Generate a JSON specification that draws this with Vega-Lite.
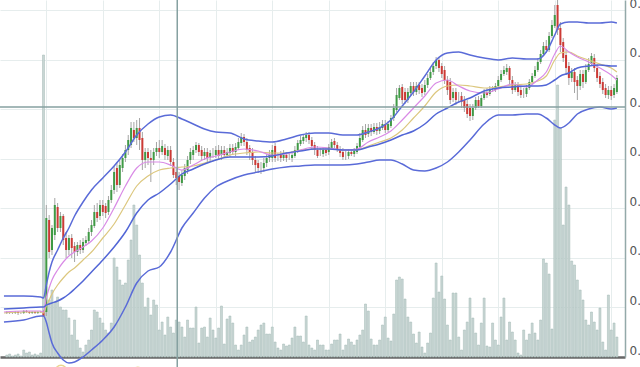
{
"$schema":"https://vega.github.io/schema/vega-lite/v6.json",
"width":625,"height":357,"autosize":{"type":"none"},
"padding":{"left":0,"top":0,"right":15,"bottom":10},
"background":"white",
"config":{"view":{"stroke":null}},
"datasets":{
"candles":[
{"i":6,"o":44,"h":46,"l":43,"c":45,"v":2},{"i":7,"o":45,"h":46,"l":43,"c":44,"v":3},{"i":8,"o":44,"h":45,"l":43,"c":44,"v":1},{"i":9,"o":44,"h":46,"l":43,"c":45,"v":2},{"i":10,"o":45,"h":46,"l":42,"c":44,"v":3},{"i":11,"o":44,"h":45,"l":43,"c":44,"v":1},{"i":12,"o":44,"h":47,"l":43,"c":46,"v":7},{"i":13,"o":46,"h":47,"l":44,"c":45,"v":4},{"i":14,"o":45,"h":46,"l":43,"c":44,"v":5},{"i":15,"o":44,"h":46,"l":43,"c":45,"v":2},{"i":16,"o":45,"h":46,"l":43,"c":44,"v":3},{"i":17,"o":44,"h":46,"l":43,"c":45,"v":2},{"i":18,"o":45,"h":46,"l":44,"c":45,"v":4},
{"i":19,"o":46,"h":47,"l":40,"c":41,"v":302},{"i":20,"o":45,"h":152,"l":41,"c":139,"v":52},{"i":21,"o":137,"h":142,"l":99,"c":105,"v":57},{"i":22,"o":107,"h":132,"l":102,"c":129,"v":67},{"i":23,"o":122,"h":159,"l":117,"c":152,"v":55},{"i":24,"o":150,"h":154,"l":125,"c":129,"v":60},{"i":25,"o":129,"h":145,"l":125,"c":141,"v":50},{"i":26,"o":141,"h":143,"l":112,"c":117,"v":47},{"i":27,"o":119,"h":125,"l":99,"c":107,"v":47},{"i":28,"o":107,"h":122,"l":102,"c":119,"v":39},{"i":29,"o":119,"h":123,"l":99,"c":109,"v":22},{"i":30,"o":111,"h":115,"l":95,"c":105,"v":37},
{"i":31,"o":105,"h":115,"l":101,"c":112,"v":17},{"i":32,"o":112,"h":117,"l":103,"c":107,"v":9},{"i":33,"o":107,"h":119,"l":104,"c":115,"v":5},{"i":34,"o":114,"h":121,"l":111,"c":117,"v":12},{"i":35,"o":116,"h":129,"l":113,"c":125,"v":17},{"i":36,"o":125,"h":137,"l":121,"c":132,"v":27},{"i":37,"o":131,"h":152,"l":129,"c":145,"v":47},{"i":38,"o":145,"h":154,"l":135,"c":139,"v":45},{"i":39,"o":141,"h":157,"l":137,"c":152,"v":39},{"i":40,"o":152,"h":157,"l":141,"c":145,"v":34},
{"i":41,"o":151,"h":154,"l":139,"c":144,"v":27},{"i":42,"o":145,"h":161,"l":142,"c":157,"v":24},{"i":43,"o":157,"h":172,"l":154,"c":167,"v":34},{"i":44,"o":167,"h":191,"l":163,"c":185,"v":99},{"i":45,"o":189,"h":195,"l":165,"c":172,"v":90},{"i":46,"o":172,"h":197,"l":169,"c":192,"v":77},{"i":47,"o":189,"h":203,"l":185,"c":199,"v":72},{"i":48,"o":199,"h":212,"l":195,"c":207,"v":74},{"i":49,"o":207,"h":222,"l":202,"c":217,"v":97},{"i":50,"o":212,"h":235,"l":209,"c":229,"v":117},
{"i":51,"o":227,"h":235,"l":215,"c":219,"v":152},{"i":52,"o":219,"h":237,"l":212,"c":229,"v":132},{"i":53,"o":229,"h":239,"l":207,"c":217,"v":102},{"i":54,"o":219,"h":225,"l":187,"c":197,"v":74},{"i":55,"o":197,"h":209,"l":189,"c":205,"v":50},{"i":56,"o":205,"h":209,"l":192,"c":199,"v":59},{"i":57,"o":199,"h":207,"l":175,"c":197,"v":42},{"i":58,"o":197,"h":209,"l":192,"c":205,"v":57},{"i":59,"o":205,"h":215,"l":201,"c":209,"v":52},{"i":60,"o":209,"h":217,"l":199,"c":205,"v":27},
{"i":61,"o":205,"h":217,"l":202,"c":211,"v":35},{"i":62,"o":209,"h":213,"l":197,"c":202,"v":22},{"i":63,"o":201,"h":211,"l":197,"c":207,"v":40},{"i":64,"o":207,"h":211,"l":191,"c":195,"v":30},{"i":65,"o":195,"h":199,"l":179,"c":182,"v":24},{"i":66,"o":185,"h":189,"l":172,"c":179,"v":37},{"i":67,"o":181,"h":185,"l":167,"c":175,"v":35},{"i":68,"o":174,"h":187,"l":171,"c":182,"v":30},{"i":69,"o":181,"h":193,"l":177,"c":189,"v":20},{"i":70,"o":187,"h":201,"l":183,"c":197,"v":37},
{"i":71,"o":197,"h":209,"l":193,"c":205,"v":29},{"i":72,"o":202,"h":211,"l":197,"c":207,"v":29},{"i":73,"o":207,"h":215,"l":204,"c":212,"v":50},{"i":74,"o":212,"h":214,"l":201,"c":205,"v":14},{"i":75,"o":207,"h":211,"l":197,"c":201,"v":29},{"i":76,"o":201,"h":209,"l":197,"c":205,"v":30},{"i":77,"o":205,"h":209,"l":195,"c":199,"v":20},{"i":78,"o":199,"h":207,"l":195,"c":204,"v":39},{"i":79,"o":204,"h":209,"l":199,"c":204,"v":27},{"i":80,"o":202,"h":211,"l":199,"c":207,"v":19},
{"i":81,"o":207,"h":212,"l":197,"c":201,"v":29},{"i":82,"o":202,"h":211,"l":197,"c":207,"v":51},{"i":83,"o":207,"h":211,"l":199,"c":202,"v":13},{"i":84,"o":202,"h":209,"l":199,"c":205,"v":38},{"i":85,"o":204,"h":213,"l":200,"c":209,"v":41},{"i":86,"o":209,"h":213,"l":202,"c":205,"v":34},{"i":87,"o":205,"h":214,"l":201,"c":210,"v":12},{"i":88,"o":209,"h":219,"l":207,"c":215,"v":7},{"i":89,"o":214,"h":224,"l":211,"c":220,"v":12},{"i":90,"o":220,"h":223,"l":211,"c":215,"v":22},
{"i":91,"o":215,"h":219,"l":202,"c":207,"v":30},{"i":92,"o":209,"h":212,"l":197,"c":205,"v":15},{"i":93,"o":205,"h":209,"l":192,"c":197,"v":17},{"i":94,"o":197,"h":201,"l":185,"c":192,"v":20},{"i":95,"o":194,"h":197,"l":184,"c":189,"v":27},{"i":96,"o":189,"h":195,"l":183,"c":189,"v":32},{"i":97,"o":189,"h":199,"l":185,"c":194,"v":34},{"i":98,"o":194,"h":203,"l":190,"c":199,"v":23},{"i":99,"o":199,"h":207,"l":195,"c":202,"v":23},{"i":100,"o":199,"h":212,"l":195,"c":207,"v":30},
{"i":101,"o":211,"h":214,"l":195,"c":199,"v":15},{"i":102,"o":200,"h":204,"l":196,"c":200,"v":9},{"i":103,"o":202,"h":206,"l":195,"c":199,"v":7},{"i":104,"o":199,"h":207,"l":196,"c":202,"v":13},{"i":105,"o":202,"h":205,"l":195,"c":199,"v":11},{"i":106,"o":200,"h":204,"l":197,"c":200,"v":12},{"i":107,"o":199,"h":206,"l":195,"c":202,"v":19},{"i":108,"o":201,"h":211,"l":199,"c":207,"v":30},{"i":109,"o":207,"h":217,"l":204,"c":214,"v":21},{"i":110,"o":213,"h":221,"l":211,"c":217,"v":21},
{"i":111,"o":216,"h":223,"l":213,"c":220,"v":15},{"i":112,"o":219,"h":225,"l":215,"c":222,"v":41},{"i":113,"o":222,"h":225,"l":213,"c":217,"v":12},{"i":114,"o":217,"h":220,"l":207,"c":211,"v":9},{"i":115,"o":212,"h":215,"l":202,"c":207,"v":7},{"i":116,"o":207,"h":211,"l":199,"c":201,"v":17},{"i":117,"o":205,"h":209,"l":201,"c":205,"v":12},{"i":118,"o":203,"h":210,"l":200,"c":207,"v":12},{"i":119,"o":207,"h":210,"l":201,"c":204,"v":7},{"i":120,"o":205,"h":213,"l":202,"c":210,"v":7},
{"i":121,"o":209,"h":218,"l":207,"c":215,"v":13},{"i":122,"o":216,"h":219,"l":209,"c":212,"v":17},{"i":123,"o":212,"h":215,"l":205,"c":207,"v":17},{"i":124,"o":208,"h":211,"l":200,"c":204,"v":23},{"i":125,"o":205,"h":209,"l":197,"c":200,"v":7},{"i":126,"o":202,"h":206,"l":197,"c":202,"v":12},{"i":127,"o":201,"h":208,"l":198,"c":205,"v":18},{"i":128,"o":205,"h":208,"l":201,"c":203,"v":15},{"i":129,"o":203,"h":209,"l":200,"c":206,"v":12},{"i":130,"o":205,"h":214,"l":203,"c":211,"v":17},
{"i":131,"o":210,"h":224,"l":208,"c":219,"v":22},{"i":132,"o":217,"h":231,"l":215,"c":227,"v":27},{"i":133,"o":227,"h":233,"l":219,"c":222,"v":53},{"i":134,"o":223,"h":233,"l":220,"c":229,"v":46},{"i":135,"o":229,"h":233,"l":221,"c":225,"v":18},{"i":136,"o":225,"h":234,"l":223,"c":230,"v":12},{"i":137,"o":230,"h":234,"l":222,"c":226,"v":12},{"i":138,"o":226,"h":235,"l":223,"c":230,"v":17},{"i":139,"o":229,"h":237,"l":227,"c":233,"v":32},{"i":140,"o":233,"h":237,"l":224,"c":227,"v":40},
{"i":141,"o":227,"h":236,"l":225,"c":233,"v":19},{"i":142,"o":231,"h":242,"l":229,"c":239,"v":16},{"i":143,"o":239,"h":253,"l":236,"c":249,"v":43},{"i":144,"o":247,"h":269,"l":245,"c":262,"v":77},{"i":145,"o":259,"h":272,"l":257,"c":269,"v":80},{"i":146,"o":270,"h":273,"l":253,"c":257,"v":78},{"i":147,"o":265,"h":269,"l":253,"c":257,"v":58},{"i":148,"o":257,"h":269,"l":254,"c":265,"v":40},{"i":149,"o":264,"h":275,"l":261,"c":271,"v":35},{"i":150,"o":271,"h":275,"l":261,"c":265,"v":23},
{"i":151,"o":265,"h":275,"l":262,"c":271,"v":14},{"i":152,"o":272,"h":275,"l":263,"c":267,"v":25},{"i":153,"o":269,"h":273,"l":260,"c":264,"v":10},{"i":154,"o":265,"h":277,"l":262,"c":272,"v":4},{"i":155,"o":272,"h":283,"l":269,"c":279,"v":14},{"i":156,"o":279,"h":289,"l":277,"c":285,"v":24},{"i":157,"o":285,"h":295,"l":282,"c":291,"v":59},{"i":158,"o":291,"h":300,"l":288,"c":297,"v":94},{"i":159,"o":297,"h":300,"l":285,"c":289,"v":65},{"i":160,"o":291,"h":294,"l":279,"c":283,"v":81},
{"i":161,"o":287,"h":291,"l":273,"c":277,"v":58},{"i":162,"o":277,"h":281,"l":262,"c":267,"v":32},{"i":163,"o":275,"h":279,"l":253,"c":257,"v":17},{"i":164,"o":259,"h":269,"l":255,"c":265,"v":64},{"i":165,"o":265,"h":269,"l":252,"c":257,"v":64},{"i":166,"o":260,"h":265,"l":255,"c":260,"v":20},{"i":167,"o":261,"h":265,"l":249,"c":255,"v":7},{"i":168,"o":257,"h":261,"l":245,"c":249,"v":27},{"i":169,"o":253,"h":257,"l":239,"c":243,"v":35},{"i":170,"o":249,"h":253,"l":236,"c":241,"v":59},
{"i":171,"o":241,"h":253,"l":237,"c":249,"v":39},{"i":172,"o":249,"h":260,"l":247,"c":257,"v":24},{"i":173,"o":257,"h":261,"l":249,"c":251,"v":12},{"i":174,"o":251,"h":262,"l":249,"c":259,"v":34},{"i":175,"o":259,"h":268,"l":257,"c":265,"v":59},{"i":176,"o":265,"h":269,"l":259,"c":262,"v":11},{"i":177,"o":263,"h":271,"l":261,"c":268,"v":10},{"i":178,"o":268,"h":271,"l":265,"c":268,"v":34},{"i":179,"o":267,"h":274,"l":265,"c":271,"v":17},{"i":180,"o":271,"h":281,"l":269,"c":277,"v":12},
{"i":181,"o":277,"h":287,"l":275,"c":283,"v":40},{"i":182,"o":283,"h":291,"l":281,"c":287,"v":59},{"i":183,"o":285,"h":293,"l":282,"c":289,"v":17},{"i":184,"o":289,"h":291,"l":273,"c":277,"v":35},{"i":185,"o":277,"h":281,"l":263,"c":267,"v":25},{"i":186,"o":267,"h":275,"l":265,"c":272,"v":17},{"i":187,"o":272,"h":275,"l":261,"c":265,"v":4},{"i":188,"o":267,"h":271,"l":259,"c":262,"v":2},{"i":189,"o":264,"h":269,"l":259,"c":264,"v":27},{"i":190,"o":263,"h":272,"l":260,"c":269,"v":17},
{"i":191,"o":269,"h":278,"l":267,"c":275,"v":23},{"i":192,"o":275,"h":284,"l":273,"c":281,"v":34},{"i":193,"o":281,"h":291,"l":279,"c":287,"v":24},{"i":194,"o":287,"h":299,"l":285,"c":295,"v":17},{"i":195,"o":295,"h":307,"l":293,"c":303,"v":37},{"i":196,"o":303,"h":315,"l":301,"c":311,"v":98},{"i":197,"o":311,"h":317,"l":304,"c":307,"v":94},{"i":198,"o":307,"h":325,"l":305,"c":321,"v":83},{"i":199,"o":321,"h":337,"l":319,"c":332,"v":28},{"i":200,"o":331,"h":352,"l":329,"c":342,"v":237},
{"i":201,"o":352,"h":357,"l":322,"c":327,"v":272},{"i":202,"o":329,"h":335,"l":305,"c":312,"v":229},{"i":203,"o":315,"h":319,"l":295,"c":299,"v":132},{"i":204,"o":302,"h":307,"l":282,"c":289,"v":170},{"i":205,"o":291,"h":295,"l":272,"c":279,"v":152},{"i":206,"o":279,"h":289,"l":275,"c":285,"v":96},{"i":207,"o":285,"h":289,"l":264,"c":275,"v":92},{"i":208,"o":277,"h":281,"l":257,"c":271,"v":77},{"i":209,"o":271,"h":287,"l":267,"c":283,"v":67},{"i":210,"o":283,"h":287,"l":269,"c":275,"v":57},
{"i":211,"o":275,"h":293,"l":273,"c":287,"v":37},{"i":212,"o":287,"h":299,"l":285,"c":293,"v":32},{"i":213,"o":293,"h":304,"l":291,"c":301,"v":45},{"i":214,"o":299,"h":303,"l":285,"c":289,"v":35},{"i":215,"o":289,"h":293,"l":275,"c":279,"v":27},{"i":216,"o":281,"h":285,"l":269,"c":273,"v":49},{"i":217,"o":275,"h":279,"l":263,"c":267,"v":15},{"i":218,"o":269,"h":273,"l":259,"c":262,"v":7},{"i":219,"o":262,"h":271,"l":258,"c":267,"v":62},{"i":220,"o":267,"h":271,"l":257,"c":261,"v":27},
{"i":221,"o":262,"h":273,"l":259,"c":269,"v":34},{"i":222,"o":265,"h":282,"l":263,"c":279,"v":20}
],
"lines":[
{"i":5,"up":61,"mid":48,"lo":35,"m1":45,"m2":44},
{"i":12,"up":61,"mid":49,"lo":37,"m1":46,"m2":45},
{"i":18,"up":60,"mid":50,"lo":41,"m1":46,"m2":45},
{"i":19,"up":59,"mid":50,"lo":41,"m1":45,"m2":44},
{"i":20,"up":72,"mid":52,"lo":35,"m1":59,"m2":51},
{"i":21,"up":85,"mid":53,"lo":24,"m1":69,"m2":57},
{"i":22,"up":95,"mid":54,"lo":14,"m1":77,"m2":63},
{"i":24,"up":107,"mid":56,"lo":4,"m1":87,"m2":72},
{"i":26,"up":119,"mid":59,"lo":-3,"m1":95,"m2":79},
{"i":28,"up":129,"mid":63,"lo":-6,"m1":101,"m2":85},
{"i":30,"up":141,"mid":68,"lo":-5,"m1":105,"m2":89},
{"i":33,"up":155,"mid":76,"lo":0,"m1":110,"m2":97},
{"i":36,"up":167,"mid":85,"lo":7,"m1":116,"m2":105},
{"i":40,"up":179,"mid":97,"lo":17,"m1":129,"m2":119},
{"i":44,"up":191,"mid":110,"lo":30,"m1":149,"m2":133},
{"i":48,"up":205,"mid":125,"lo":50,"m1":171,"m2":152},
{"i":52,"up":222,"mid":144,"lo":74,"m1":189,"m2":171},
{"i":56,"up":233,"mid":157,"lo":86,"m1":195,"m2":181},
{"i":60,"up":240,"mid":164,"lo":90,"m1":195,"m2":187},
{"i":64,"up":242,"mid":173,"lo":105,"m1":192,"m2":189},
{"i":68,"up":238,"mid":183,"lo":129,"m1":187,"m2":190},
{"i":72,"up":233,"mid":188,"lo":144,"m1":192,"m2":191},
{"i":76,"up":228,"mid":193,"lo":159,"m1":198,"m2":194},
{"i":80,"up":225,"mid":197,"lo":170,"m1":201,"m2":197},
{"i":85,"up":224,"mid":200,"lo":177,"m1":205,"m2":202},
{"i":90,"up":218,"mid":200,"lo":182,"m1":208,"m2":204},
{"i":95,"up":216,"mid":200,"lo":185,"m1":206,"m2":205},
{"i":100,"up":215,"mid":201,"lo":188,"m1":202,"m2":204},
{"i":105,"up":218,"mid":204,"lo":190,"m1":203,"m2":204},
{"i":110,"up":222,"mid":206,"lo":191,"m1":207,"m2":207},
{"i":115,"up":224,"mid":208,"lo":192,"m1":210,"m2":208},
{"i":120,"up":224,"mid":208,"lo":192,"m1":209,"m2":208},
{"i":125,"up":222,"mid":207,"lo":192,"m1":207,"m2":207},
{"i":130,"up":222,"mid":207,"lo":193,"m1":208,"m2":207},
{"i":134,"up":225,"mid":210,"lo":195,"m1":215,"m2":211},
{"i":138,"up":229,"mid":213,"lo":197,"m1":220,"m2":215},
{"i":142,"up":237,"mid":217,"lo":197,"m1":226,"m2":219},
{"i":146,"up":251,"mid":222,"lo":193,"m1":237,"m2":227},
{"i":150,"up":265,"mid":226,"lo":187,"m1":249,"m2":239},
{"i":154,"up":281,"mid":233,"lo":186,"m1":261,"m2":251},
{"i":158,"up":297,"mid":243,"lo":189,"m1":274,"m2":265},
{"i":162,"up":304,"mid":249,"lo":195,"m1":277,"m2":271},
{"i":166,"up":305,"mid":255,"lo":205,"m1":271,"m2":272},
{"i":170,"up":302,"mid":259,"lo":217,"m1":266,"m2":271},
{"i":175,"up":299,"mid":266,"lo":233,"m1":264,"m2":269},
{"i":180,"up":297,"mid":269,"lo":242,"m1":268,"m2":270},
{"i":185,"up":299,"mid":270,"lo":242,"m1":273,"m2":272},
{"i":190,"up":298,"mid":271,"lo":243,"m1":270,"m2":273},
{"i":194,"up":298,"mid":271,"lo":243,"m1":277,"m2":276},
{"i":197,"up":305,"mid":272,"lo":239,"m1":285,"m2":281},
{"i":200,"up":322,"mid":277,"lo":232,"m1":303,"m2":297},
{"i":202,"up":333,"mid":281,"lo":229,"m1":311,"m2":304},
{"i":205,"up":335,"mid":284,"lo":234,"m1":305,"m2":305},
{"i":208,"up":335,"mid":289,"lo":243,"m1":300,"m2":301},
{"i":212,"up":334,"mid":291,"lo":248,"m1":295,"m2":297},
{"i":216,"up":334,"mid":292,"lo":250,"m1":289,"m2":293},
{"i":220,"up":335,"mid":291,"lo":248,"m1":282,"m2":289},
{"i":222,"up":334,"mid":291,"lo":249,"m1":277,"m2":285}
],
"cross":[{"i":66.35,"p":250,"p1":-12,"p2":357}],
"marks":[{"i":25.2,"p":-14},{"i":52.4,"p":-16}]
},
"resolve":{"scale":{"y":"independent"}},
"layer":[
{"data":{"name":"candles"},
 "mark":{"type":"bar","width":2,"fill":"#c8d6d4","stroke":"#a3b8b5","strokeWidth":0.5},
 "encoding":{
  "x":{"field":"i","type":"quantitative","title":null,"scale":{"domain":[5.37,223.1],"nice":false,"zero":false},
       "axis":{"values":[20,40,60,80,100,120,140,160,180,200,220],"grid":true,"gridColor":"#e6eded","gridWidth":1,"labels":false,"ticks":false,"title":null,"domainColor":"#666666","domainWidth":2.5}},
  "y":{"field":"v","type":"quantitative","scale":{"domain":[0,357],"nice":false},"axis":null}
 }},
{"layer":[
 {"data":{"name":"candles"},
  "mark":{"type":"rule","color":"#a5a5a5","strokeWidth":1},
  "encoding":{
   "x":{"field":"i","type":"quantitative","title":null,"scale":{"domain":[5.37,223.1],"nice":false,"zero":false}},
   "y":{"field":"l","type":"quantitative","title":null,"scale":{"domain":[0,357],"nice":false,"zero":false},
        "axis":{"orient":"right","values":[0,49.57,99.14,148.71,198.29,247.86,297.43,347],"grid":true,"gridColor":"#e6eded","ticks":false,"title":null,
                "domainColor":"#93a9a9","domainWidth":1.5,"labelExpr":"format(datum.value/100000,'.5f')","labelFontSize":12,"labelColor":"#555555","labelFont":"DejaVu Sans","labelPadding":4,"labelBaseline":"alphabetic","labelOffset":-3}},
   "y2":{"field":"h"}
  }},
 {"data":{"name":"candles"},
  "mark":{"type":"bar","width":2},
  "encoding":{
   "x":{"field":"i","type":"quantitative","title":null,"scale":{"domain":[5.37,223.1],"nice":false,"zero":false}},
   "y":{"field":"o","type":"quantitative","title":null,"scale":{"domain":[0,357],"nice":false,"zero":false}},
   "y2":{"field":"c"},
   "color":{"condition":[{"test":"datum.c > datum.o","value":"#3f9a45"},{"test":"datum.c < datum.o","value":"#cc3a35"}],"value":"#a5a5a5"}
  }},
 {"data":{"name":"lines"},
  "mark":{"type":"line","color":"#5a6bd8","strokeWidth":1.5,"interpolate":"monotone"},
  "encoding":{
   "x":{"field":"i","type":"quantitative","title":null,"scale":{"domain":[5.37,223.1],"nice":false,"zero":false}},
   "y":{"field":"up","type":"quantitative","title":null,"scale":{"domain":[0,357],"nice":false,"zero":false}}}},
 {"data":{"name":"lines"},
  "mark":{"type":"line","color":"#5a6bd8","strokeWidth":1.5,"interpolate":"monotone"},
  "encoding":{
   "x":{"field":"i","type":"quantitative","title":null,"scale":{"domain":[5.37,223.1],"nice":false,"zero":false}},
   "y":{"field":"lo","type":"quantitative","title":null,"scale":{"domain":[0,357],"nice":false,"zero":false}}}},
 {"data":{"name":"lines"},
  "mark":{"type":"line","color":"#dcc77e","strokeWidth":1.2,"interpolate":"monotone"},
  "encoding":{
   "x":{"field":"i","type":"quantitative","title":null,"scale":{"domain":[5.37,223.1],"nice":false,"zero":false}},
   "y":{"field":"m2","type":"quantitative","title":null,"scale":{"domain":[0,357],"nice":false,"zero":false}}}},
 {"data":{"name":"lines"},
  "mark":{"type":"line","color":"#d98be6","strokeWidth":1.2,"interpolate":"monotone"},
  "encoding":{
   "x":{"field":"i","type":"quantitative","title":null,"scale":{"domain":[5.37,223.1],"nice":false,"zero":false}},
   "y":{"field":"m1","type":"quantitative","title":null,"scale":{"domain":[0,357],"nice":false,"zero":false}}}},
 {"data":{"name":"lines"},
  "mark":{"type":"line","color":"#5266d6","strokeWidth":1.5,"interpolate":"monotone"},
  "encoding":{
   "x":{"field":"i","type":"quantitative","title":null,"scale":{"domain":[5.37,223.1],"nice":false,"zero":false}},
   "y":{"field":"mid","type":"quantitative","title":null,"scale":{"domain":[0,357],"nice":false,"zero":false}}}},
 {"data":{"name":"marks"},
  "mark":{"type":"point","shape":"circle","filled":false,"size":130,"stroke":"#e3c462","strokeWidth":1.5},
  "encoding":{
   "x":{"field":"i","type":"quantitative","title":null,"scale":{"domain":[5.37,223.1],"nice":false,"zero":false}},
   "y":{"field":"p","type":"quantitative","title":null,"scale":{"domain":[0,357],"nice":false,"zero":false}}}},
 {"data":{"name":"cross"},
  "mark":{"type":"rule","color":"#86a1a1","strokeWidth":1.5},
  "encoding":{
   "x":{"field":"i","type":"quantitative","title":null,"scale":{"domain":[5.37,223.1],"nice":false,"zero":false}},
   "y":{"field":"p1","type":"quantitative","title":null,"scale":{"domain":[0,357],"nice":false,"zero":false}},
   "y2":{"field":"p2"}}},
 {"data":{"name":"cross"},
  "mark":{"type":"rule","color":"#86a1a1","strokeWidth":1.5},
  "encoding":{
   "y":{"field":"p","type":"quantitative","title":null,"scale":{"domain":[0,357],"nice":false,"zero":false}}}}
]}
]
}
